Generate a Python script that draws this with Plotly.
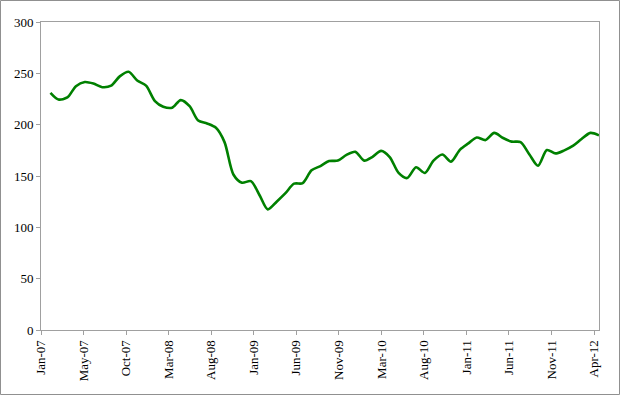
import pandas as pd
import plotly.graph_objects as go

# Monthly values, Feb-2007 .. May-2012
months = pd.date_range("2007-02-01", periods=64, freq="MS")
values = [
    231, 224.5, 226.5, 237.5, 241.5, 240, 236.5, 238, 247, 251.5,
    243, 238, 223, 217.5, 216.5, 223.9, 218, 204, 201.2, 197,
    183, 151.5, 143.5, 145, 131, 117.5, 125, 133, 142.5, 143,
    155.5, 159.7, 164.5, 165, 170.5, 173.5, 165, 168.5, 174.5, 168.5,
    153, 148, 158.5, 153, 165, 171, 164, 175.5, 182, 187.5,
    185, 192, 187, 183.5, 183, 171, 160, 175.3, 172, 175,
    179.5, 186, 192, 189.6,
]

tick_labels = ["Jan-07", "May-07", "Oct-07", "Mar-08", "Aug-08", "Jan-09", "Jun-09",
               "Nov-09", "Mar-10", "Aug-10", "Jan-11", "Jun-11", "Nov-11", "Apr-12"]

axis_start = pd.Timestamp("2006-12-30")
axis_end = pd.Timestamp("2012-05-01")
tick_step = pd.Timedelta(days=148.6)
tick_vals = [axis_start + k * tick_step for k in range(len(tick_labels))]

fig = go.Figure()
fig.add_trace(go.Scatter(
    x=months, y=values, mode="lines",
    line=dict(color="#008000", width=2.6, shape="spline", smoothing=0.8),
    showlegend=False,
))

grey = "#a0a0a0"
font = dict(family="Times New Roman, Liberation Serif, serif", size=13, color="#000000")

fig.update_layout(
    width=620, height=395,
    margin=dict(l=41, r=21, t=22, b=65, pad=0, autoexpand=False),
    paper_bgcolor="white", plot_bgcolor="white",
    font=font,
    xaxis=dict(
        type="date", range=[axis_start, axis_end], automargin=False,
        tickmode="array", tickvals=tick_vals, ticktext=tick_labels,
        tickangle=-90, ticks="outside", ticklen=4, tickcolor=grey,
        showline=True, linecolor=grey, linewidth=1, mirror=True,
        showgrid=False, zeroline=False, tickfont=font,
    ),
    yaxis=dict(
        range=[0, 300], tickmode="linear", tick0=0, dtick=50, automargin=False,
        ticks="outside", ticklen=4, tickcolor=grey,
        showline=True, linecolor=grey, linewidth=1, mirror=True,
        showgrid=False, zeroline=False, tickfont=font,
    ),
    shapes=[dict(
        type="rect", xref="paper", yref="paper",
        x0=-40.5 / 558, x1=1 + 20.5 / 558,
        y0=-64.5 / 308, y1=1 + 21.5 / 308,
        line=dict(color="#909090", width=1), fillcolor="rgba(0,0,0,0)",
        layer="below",
    )],
)

fig.write_html(
    "out.html",
    config={"displayModeBar": False},
    post_script="document.body.style.margin='0';document.body.style.padding='0';",
)
